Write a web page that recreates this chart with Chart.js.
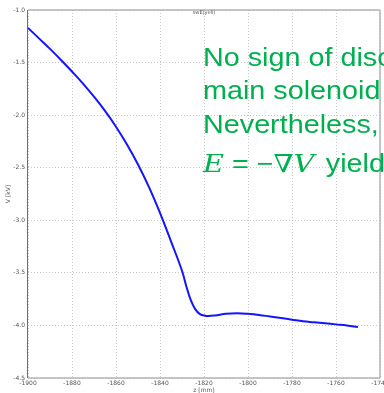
<!DOCTYPE html>
<html>
<head>
<meta charset="utf-8">
<script src="https://cdn.jsdelivr.net/npm/chart.js@4/dist/chart.umd.min.js"></script>
<style>
  html, body { margin: 0; padding: 0; background: #fff; overflow: hidden; }
  #wrap { position: relative; width: 384px; height: 393px; }
  canvas { position: absolute; left: 0; top: 0; }
  .note {
    position: absolute; left: 203px; white-space: nowrap;
    font-family: "Liberation Sans", Arial, sans-serif; font-size: 25px;
    line-height: 25px; color: #00b050;
    transform: scaleX(1.15); transform-origin: 0 0;
  }
  .math { font-family: "DejaVu Serif", "Liberation Serif", serif; font-style: italic; }
  .gap { margin-left: 3px; }
</style>
</head>
<body>
<div id="wrap">
  <canvas id="c" width="384" height="393"></canvas>
  <div class="note" style="top:45px">No sign of discharge</div>
  <div class="note" style="top:78px">main solenoid region.</div>
  <div class="note" style="top:112px">Nevertheless,</div>
  <div class="note" style="top:151px"><span class="math">E</span> = −<span class="math">∇V</span> <span class="gap">yields</span></div>
</div>
<script>
// Potential along the axis, z in mm, V in kV
const zPositions = [
  -1900, -1895, -1890, -1885, -1880, -1875, -1870, -1865, -1860, -1855,
  -1850, -1845, -1840, -1835, -1830, -1828, -1826, -1824, -1822, -1820,
  -1818, -1815, -1810, -1805, -1800, -1795, -1790, -1785, -1780, -1775,
  -1770, -1765, -1760, -1755, -1750
];
const potential = [
  -1.17, -1.27, -1.37, -1.475, -1.585, -1.70, -1.825, -1.96, -2.11, -2.28,
  -2.47, -2.685, -2.93, -3.20, -3.48, -3.63, -3.76, -3.845, -3.89, -3.905,
  -3.91, -3.905, -3.89, -3.885, -3.89, -3.90, -3.915, -3.93, -3.945, -3.96,
  -3.97, -3.98, -3.99, -4.00, -4.015
];
const xTickRange = { min: -1900, max: -1740, step: 20 };
const yTickRange = { min: -4.5, max: -1.0, step: 0.5 };
const plotTitle = "swE(yell)";
const xTitle = "z [mm]";
const yTitle = "V [kV]";

const points = zPositions.map((z, i) => ({ x: z, y: potential[i] }));

const tickFont = { family: "DejaVu Sans", size: 6 };
const gridStyle = { color: "#c8c8c8", lineWidth: 1, drawTicks: false };
const dottedBorder = { display: false, dash: [1, 2] };

// frame around the plotting area plus the small title
const framePlugin = {
  id: "frame",
  afterDraw(chart) {
    const { ctx, chartArea: a } = chart;
    ctx.save();
    ctx.strokeStyle = "#b4b4b4";
    ctx.lineWidth = 1.5;
    ctx.beginPath();
    ctx.moveTo(a.left, a.top); ctx.lineTo(a.right, a.top);
    ctx.moveTo(a.right, a.top); ctx.lineTo(a.right, a.bottom);
    ctx.moveTo(a.left, a.bottom); ctx.lineTo(a.right, a.bottom);
    ctx.stroke();
    ctx.strokeStyle = "#6e6e6e";
    ctx.lineWidth = 1;
    ctx.beginPath();
    ctx.moveTo(a.left - 0.5, a.top); ctx.lineTo(a.left - 0.5, a.bottom);
    ctx.stroke();
    ctx.fillStyle = "#555";
    ctx.font = "5px 'DejaVu Sans'";
    ctx.textAlign = "center";
    ctx.textBaseline = "middle";
    ctx.fillText(plotTitle, (a.left + a.right) / 2, a.top + 3);
    ctx.restore();
  }
};

new Chart(document.getElementById("c"), {
  type: "line",
  data: {
    datasets: [{
      data: points,
      borderColor: "#1414ff",
      borderWidth: 2,
      pointRadius: 0,
      fill: false,
      tension: 0.4
    }]
  },
  options: {
    responsive: false,
    animation: false,
    devicePixelRatio: 1,
    layout: { padding: { left: 0, right: 4, top: 10, bottom: 0 } },
    plugins: { legend: { display: false }, tooltip: { enabled: false } },
    scales: {
      x: {
        type: "linear",
        min: xTickRange.min, max: xTickRange.max,
        border: dottedBorder,
        grid: gridStyle,
        ticks: {
          stepSize: xTickRange.step, autoSkip: false, maxRotation: 0,
          padding: 2, color: "#555", font: tickFont,
          callback: v => String(v)
        },
        title: { display: true, text: xTitle, color: "#555", font: tickFont, padding: { top: 0, bottom: -1.5 } },
        afterFit(scale) { scale.height = 15; scale.paddingLeft = 0; scale.paddingRight = 0; }
      },
      y: {
        type: "linear",
        min: yTickRange.min, max: yTickRange.max,
        border: dottedBorder,
        grid: gridStyle,
        ticks: {
          stepSize: yTickRange.step, padding: 3, color: "#555", font: tickFont,
          callback: v => v.toFixed(1)
        },
        title: { display: true, text: yTitle, color: "#555", font: tickFont, padding: { top: 5, bottom: 0 } },
        afterFit(scale) { scale.width = 28; scale.paddingTop = 0; scale.paddingBottom = 0; }
      }
    }
  },
  plugins: [framePlugin]
});
</script>
</body>
</html>
